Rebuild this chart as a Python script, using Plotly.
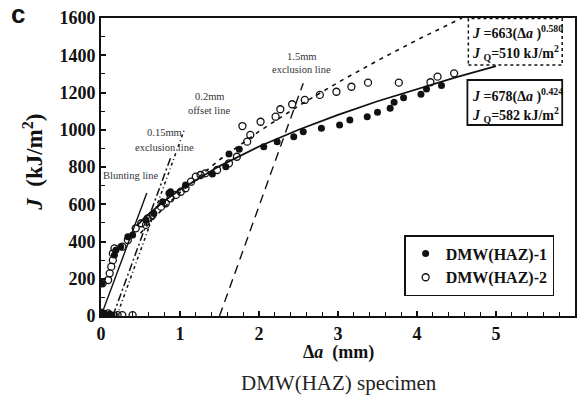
import plotly.graph_objects as go

# ---- data ----
haz1_x = [0.00, 0.04, 0.11, 0.14, 0.01, 0.17, 0.19, 0.25, 0.34, 0.40, 0.57, 0.67, 0.78, 0.86, 0.88,
          1.07, 1.41, 1.58, 1.62, 1.75, 2.06, 2.23, 2.44, 2.56, 2.79, 3.02, 3.15, 3.37, 3.50, 3.66,
          3.71, 3.83, 4.05, 4.12, 4.31]
haz1_J = [18, 15, 10, 5, 175, 327, 354, 372, 426, 435, 515, 551, 614, 659, 667,
          703, 762, 802, 870, 895, 909, 936, 963, 989, 1008, 1025, 1052, 1070, 1094, 1115,
          1147, 1172, 1190, 1219, 1237]

haz2_x = [0.00, 0.09, 0.21, 0.27, 0.40, 0.02, 0.09, 0.11, 0.13, 0.15, 0.15, 0.17, 0.27, 0.34, 0.44,
          0.51, 0.57, 0.59, 0.65, 0.76, 0.82, 0.88, 0.95, 1.01, 1.07, 1.14, 1.20, 1.26, 1.32, 1.47,
          1.62, 1.72, 1.79, 1.85, 1.89, 2.02, 2.21, 2.27, 2.42, 2.58, 2.77, 2.98, 3.17, 3.38, 3.77,
          4.17, 4.26, 4.47]
haz2_J = [18, 14, 5, 5, 5, 175, 193, 229, 265, 300, 336, 363, 372, 408, 471,
          498, 489, 524, 542, 587, 605, 632, 650, 667, 686, 721, 748, 757, 766, 784,
          820, 855, 1020, 936, 972, 1043, 1070, 1110, 1137, 1160, 1187, 1204, 1231, 1253, 1253,
          1255, 1285, 1303]

# fitted power-law curves
fit1_x = [0.45, 0.6, 0.8, 1.0, 1.5, 2.0, 2.5, 3.0, 3.5, 4.0, 4.5, 5.0]
fit1_J = [484, 546, 617, 678, 805, 910, 1000, 1080, 1153, 1220, 1283, 1342]
fit2_x = [0.5, 0.6, 0.8, 1.0, 1.5, 2.0, 2.5, 3.0, 3.5, 4.0, 4.5, 4.57]
fit2_J = [444, 493, 583, 663, 839, 991, 1128, 1254, 1371, 1482, 1586, 1600]

# construction lines
blunt_x, blunt_J = [0.0, 0.58], [0, 660]
ex015_x, ex015_J = [0.15, 0.89], [0, 860]
off02_x, off02_J = [0.20, 1.05], [0, 995]
ex15_x, ex15_J = [1.50, 2.56], [0, 1250]

x_ticks = [0, 1, 2, 3, 4, 5, 6]
y_ticks = [0, 200, 400, 600, 800, 1000, 1200, 1400, 1600]

SERIF = "Liberation Serif"
INK = "#111111"

fig = go.Figure()

def line(x, y, dash, width=1.6):
    fig.add_trace(go.Scatter(x=x, y=y, mode="lines", showlegend=False, hoverinfo="skip",
                             line=dict(color=INK, width=width, dash=dash)))

line(blunt_x, blunt_J, "solid", 1.4)
line(ex015_x, ex015_J, "8px,3px,2px,3px", 1.5)
line(off02_x, off02_J, "3px,3px,1px,3px", 1.5)
line(ex15_x, ex15_J, "9px,6px", 1.4)
line(fit2_x, fit2_J, "4px,5px", 1.6)
line(fit1_x, fit1_J, "solid", 1.8)

fig.add_trace(go.Scatter(x=haz1_x, y=haz1_J, mode="markers", name="<b>DMW(HAZ)-1</b>",
                         marker=dict(symbol="circle", size=7, color=INK)))
fig.add_trace(go.Scatter(x=haz2_x, y=haz2_J, mode="markers", name="<b>DMW(HAZ)-2</b>",
                         marker=dict(symbol="circle-open", size=7, color=INK, line=dict(width=1.3))))

axis_common = dict(ticks="inside", ticklen=5, tickwidth=1.5, tickcolor=INK,
                   showline=True, linewidth=2, linecolor=INK, mirror=True,
                   showgrid=False, zeroline=False,
                   tickfont=dict(family=SERIF, size=18, color=INK, weight="bold"))
fig.update_xaxes(range=[0, 6], tickvals=x_ticks,
                 minor=dict(dtick=0.2, ticks="inside", ticklen=4, tickwidth=1.2, tickcolor=INK),
                 **axis_common)
fig.update_yaxes(range=[0, 1600], tickvals=y_ticks,
                 minor=dict(dtick=100, ticks="inside", ticklen=4, tickwidth=1.2, tickcolor=INK),
                 **axis_common)

ann = []
def txt(x, y, s, size=10.5, xref="x", yref="y", color="#333", xanchor="center",
        yanchor="middle", family=SERIF, **kw):
    ann.append(dict(x=x, y=y, xref=xref, yref=yref, text=s, showarrow=False,
                    xanchor=xanchor, yanchor=yanchor,
                    font=dict(family=family, size=size, color=color), **kw))

txt(0.37, 757, "Blunting line")
txt(0.81, 983, "0.15mm")
txt(0.81, 907, "exclusion line")
txt(1.37, 1176, "0.2mm")
txt(1.37, 1101, "offset line")
txt(2.54, 1396, "1.5mm")
txt(2.54, 1321, "exclusion line")

# equation boxes
eq = dict(size=14, xref="paper", yref="paper", color=INK, xanchor="left")
txt(0.779, 0.950, "<b><i>J</i> =663(Δ<i>a</i> )<sup>0.580</sup></b>", **eq)
txt(0.779, 0.884, "<b><i>J</i> <sub>Q</sub>=510 kJ/m<sup>2</sup></b>", **eq)
txt(0.779, 0.740, "<b><i>J</i> =678(Δ<i>a</i> )<sup>0.424</sup></b>", **eq)
txt(0.779, 0.676, "<b><i>J</i> <sub>Q</sub>=582 kJ/m<sup>2</sup></b>", **eq)

# titles
txt(0.502, -0.121, "<b>Δ<i>a</i>  (mm)</b>", size=18, xref="paper", yref="paper", color=INK)
txt(0.502, -0.225, "DMW(HAZ) specimen", size=21, xref="paper", yref="paper", color="#222")
txt(-0.143, 0.515, "<b><i>J</i>  (kJ/m<sup>2</sup>)</b>", size=23, xref="paper", yref="paper",
    color=INK, textangle=-90)
txt(-0.175, 1.012, "<b>c</b>", size=26, xref="paper", yref="paper", color=INK,
    family="Liberation Sans")

shapes = [
    dict(type="rect", xref="paper", yref="paper", x0=0.775, x1=0.973, y0=0.842, y1=0.998,
         line=dict(color=INK, width=1.5, dash="3px,3px")),
    dict(type="rect", xref="paper", yref="paper", x0=0.773, x1=0.973, y0=0.641, y1=0.792,
         line=dict(color=INK, width=1.8)),
]

fig.update_layout(
    width=578, height=408,
    margin=dict(l=101, r=1, t=18, b=92),
    paper_bgcolor="white", plot_bgcolor="white",
    annotations=ann, shapes=shapes,
    legend=dict(x=0.956, y=0.067, xanchor="right", yanchor="bottom",
                bordercolor=INK, borderwidth=1.5, bgcolor="white",
                font=dict(family=SERIF, size=16, color=INK),
                itemwidth=30, tracegroupgap=0),
    showlegend=True,
)

fig.write_html("out.html")
